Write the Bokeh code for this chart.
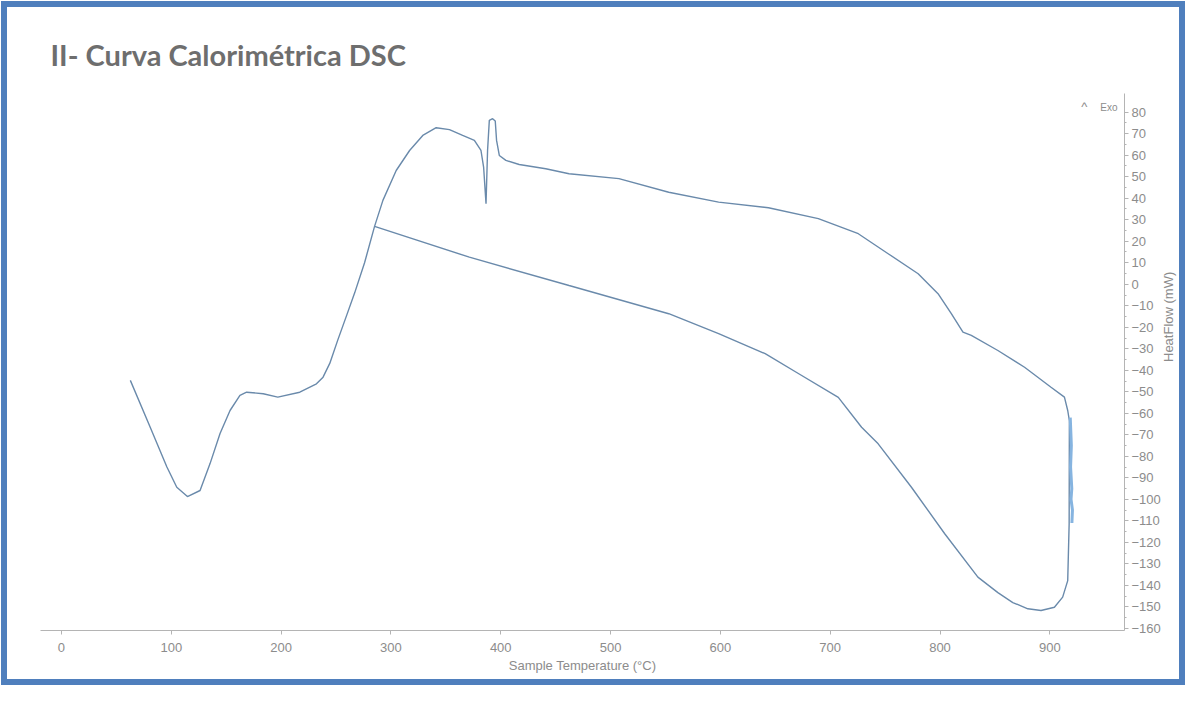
import math
from bokeh.plotting import figure
from bokeh.models import Range1d, Label, FixedTicker
from bokeh.embed import file_html
from bokeh.resources import INLINE

# DSC curve: sample temperature (°C) and heat flow (mW)
temperature = [62.7, 80.8, 96, 105, 114.7, 126.2, 135.3, 144.4, 153.5, 162.5, 168.6, 183.7,
               197, 217, 232.2, 238.2, 244.3, 251.5, 260, 267, 276, 285.1, 292.7, 304.8, 317,
               329, 341.2, 353.3, 365.3, 376, 382, 384.4, 386.6, 388, 389.6, 392.6, 395,
               396.2, 398.7, 404.7, 416.8, 441, 462.2, 507.6, 553, 598.4, 643.8, 689.2,
               725.6, 752.8, 780.1, 798.2, 810.3, 820.9, 828.5, 852.7, 877, 901.1, 913.3,
               916.3, 917.8, 917.6, 916.3, 911.7, 904.2, 892, 880, 866.3, 852.7, 834.5,
               804.3, 774, 743.7, 728.6, 707.4, 671, 640.8, 598.4, 553, 462.2, 371.4, 285.1]
heat_flow = [-44.7, -66.5, -85, -94.4, -98.7, -95.9, -83.4, -69.4, -58.7, -51.7, -50.2, -50.9,
             -52.5, -50.2, -46.3, -43.2, -36.8, -26.1, -14, -4, 10, 26.9, 39, 52.9, 62.2,
             69.2, 72.8, 71.9, 69.2, 66.9, 62.2, 54.5, 37.4, 62.2, 76.2, 77, 75.9,
             66.9, 59.9, 57.6, 55.7, 53.7, 51.4, 49.1, 42.8, 38.2, 35.6, 30.5,
             23.5, 14.2, 4.9, -4.4, -13.7, -22.3, -23.8, -30.8, -38.6, -47.9, -52.5,
             -58.7, -63.4, -111.3, -137.8, -145.5, -150.2, -151.7, -150.9, -148, -143.4, -136.2,
             -116, -94.4, -74.2, -66.5, -52.6, -41.5, -32.3, -23, -13.7, -0.6, 12.6, 26.9]

# noisy highlighted segment at the end of heating
noise_temperature = [918.6, 919.6, 918.9, 920.0, 919.3, 920.6, 920.1]
noise_heat_flow = [-62, -75, -85, -95, -100, -105, -111]

x_ticks = [0, 100, 200, 300, 400, 500, 600, 700, 800, 900]
y_ticks = list(range(-160, 90, 10))

GREY = "#8c8c8c"
AXIS = "#b4b4b4"
LINE = "#6a8aab"

p = figure(width=1186, height=686,
           x_range=Range1d(-19.1, 968), y_range=Range1d(-161, 88.7),
           y_axis_location="right",
           min_border_left=40, min_border_right=59,
           min_border_top=93, min_border_bottom=56,
           output_backend="svg", toolbar_location=None)

p.outline_line_color = None
p.grid.visible = False
p.background_fill_color = "white"
p.border_fill_color = None

p.line(temperature, heat_flow, line_color=LINE, line_width=1.4)
p.line(noise_temperature, noise_heat_flow, line_color="#86b4e0", line_width=3)

# axes styling
xa = p.xaxis[0]
xa.ticker = FixedTicker(ticks=x_ticks)
xa.axis_label = "Sample Temperature (°C)"
ya = p.yaxis[0]
ya.ticker = FixedTicker(ticks=y_ticks,
                        minor_ticks=[v + 5 for v in y_ticks[:-1]])
ya.axis_label = "HeatFlow (mW)"
if "axis_label_orientation" in ya.properties():
    ya.axis_label_orientation = math.pi / 2

for ax in (xa, ya):
    ax.axis_line_color = AXIS
    ax.major_tick_line_color = AXIS
    ax.minor_tick_line_color = AXIS
    ax.major_tick_out = 4
    ax.major_tick_in = 0
    ax.minor_tick_out = 2
    ax.minor_tick_in = 0
    ax.major_label_text_color = GREY
    ax.major_label_text_font = "Liberation Sans"
    ax.major_label_text_font_size = "13px"
    ax.axis_label_text_color = GREY
    ax.axis_label_text_font = "Liberation Sans"
    ax.axis_label_text_font_size = "13px"
    ax.axis_label_text_font_style = "normal"

xa.minor_tick_line_color = None
xa.major_label_standoff = 8
xa.axis_label_standoff = 3
ya.major_label_standoff = 3
ya.axis_label_standoff = 5

# "Exo" direction marker
p.add_layout(Label(x=931.5, y=82.6, text="^", text_color=GREY, text_font_size="13px",
                   text_font="Liberation Sans", text_align="center", text_baseline="middle"))
p.add_layout(Label(x=946, y=82.3, text="Exo", text_color=GREY, text_font_size="10px",
                   text_font="Liberation Sans", text_align="left", text_baseline="middle"))

# document title
p.title.text = "II- Curva Calorimétrica DSC"
p.title.text_color = "#6e6e6e"
p.title.text_font = "Lato"
p.title.text_font_size = "29px"
p.title.text_font_style = "bold"
p.title.align = "left"
p.title.offset = 10
p.title.standoff = 43

p.styles = {"outline": "6px solid #4f7fbd", "outline-offset": "-7px",
            "background-color": "white"}

open("out.html", "w").write(file_html(p, INLINE))
